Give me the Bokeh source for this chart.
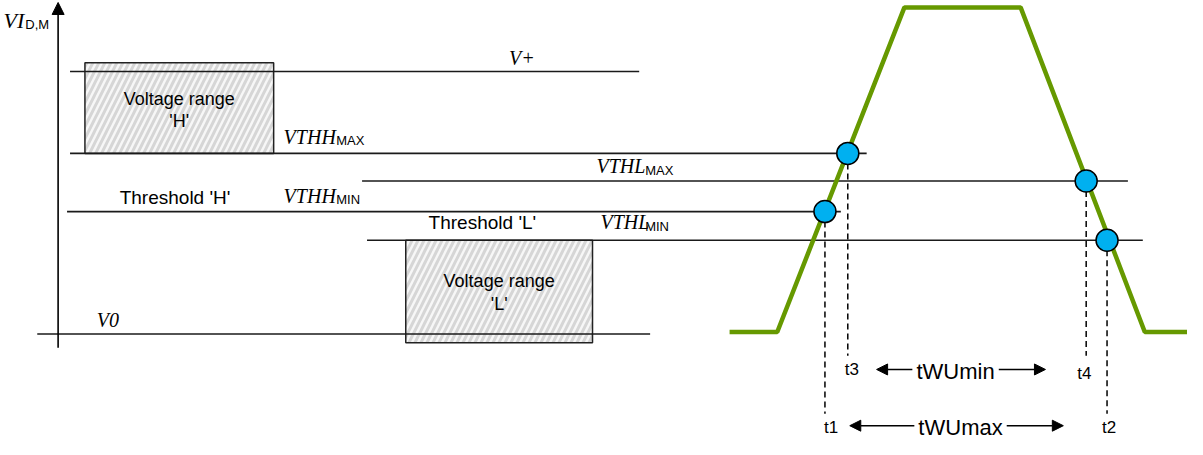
from bokeh.plotting import figure
from bokeh.models import Range1d, Arrow, NormalHead
from bokeh.core.properties import value
from bokeh.embed import file_html
from bokeh.resources import INLINE

# ---------------- data (diagram coordinates: x = time, y = level, downward) ----------------
level_names = ["V+", "VTHH_MAX", "VTHL_MAX", "VTHH_MIN", "VTHL_MIN", "V0"]
level_y = [80, 163, 191, 222, 251, 346]
level_x_start = [78, 78, 372, 75, 377, 45]
level_x_end = [651, 880, 1143, 854, 1158, 662]

range_names = ["H", "L"]
range_left = [93, 416]
range_right = [283, 604]
range_top = [71, 251]
range_bottom = [163, 355]

signal_t = [742, 790, 918, 1035, 1160, 1203]
signal_v = [344, 344, 15, 15, 344, 344]

cross_labels = ["t1", "t3", "t4", "t2"]
cross_t = [838, 861, 1101, 1122]
cross_v = [222, 163, 191, 251]
cross_drop_end = [427, 368, 368, 427]

span_labels = ["tWUmin", "tWUmax"]
span_left = [890, 863]
span_right = [1060, 1078]
span_text_left = [926, 928]
span_text_right = [1013, 1021]
span_y = [382, 439]

DY = -7  # baseline correction for svg text placement

# ---------------- figure ----------------
p = figure(width=1187, height=439, output_backend="svg", toolbar_location=None,
           x_range=Range1d(8, 1203), y_range=Range1d(453, 8),
           min_border=0, outline_line_color=None, background_fill_color="white",
           border_fill_color="white")
p.axis.visible = False
p.grid.visible = False

SANS = value("Liberation Sans")
SERIF = value("Liberation Serif")

# hatched voltage-range boxes
p.quad(left=range_left, right=range_right, top=range_top, bottom=range_bottom,
       fill_color="#f7f7f7", hatch_pattern="/", hatch_color="#d6d6d6",
       hatch_scale=12, hatch_weight=3, line_color="#222222", line_width=1.5)

# level lines
p.segment(x0=level_x_start, y0=level_y, x1=level_x_end, y1=level_y,
          line_color="#1a1a1a", line_width=1.6)

# vertical axis with arrow
p.add_layout(Arrow(end=NormalHead(size=12, fill_color="black", line_color="black"),
                   x_start=66, y_start=360, x_end=66, y_end=10,
                   line_color="black", line_width=1.6))

# signal
p.line(signal_t, signal_v, line_color="#669900", line_width=4.5)

# dashed drop lines
p.segment(x0=cross_t, y0=cross_v, x1=cross_t, y1=cross_drop_end,
          line_color="black", line_width=1.5, line_dash="6 4")

# crossing markers
p.scatter(cross_t, cross_v, size=22, fill_color="#00b0f0", line_color="black", line_width=1.5)

# span arrows
for l, r, tl, tr, y in zip(span_left, span_right, span_text_left, span_text_right, span_y):
    p.add_layout(Arrow(end=NormalHead(size=11, fill_color="black", line_color="black"),
                       x_start=tl, y_start=y, x_end=l, y_end=y, line_color="black", line_width=1.5))
    p.add_layout(Arrow(end=NormalHead(size=11, fill_color="black", line_color="black"),
                       x_start=tr, y_start=y, x_end=r, y_end=y, line_color="black", line_width=1.5))


def txt(xs, ys, labels, font, size, align="left", italic=False):
    p.text(x=xs, y=[v + DY for v in ys], text=labels, text_font=font,
           text_font_size=size, text_align=align, text_baseline="alphabetic",
           text_font_style="italic" if italic else "normal", text_color="black")


# span labels
txt([(a + b) / 2 for a, b in zip(span_text_left, span_text_right)], [391, 448],
    span_labels, SANS, "22px", align="center")

# t labels
txt([837, 858, 1092, 1117], [448, 389, 393, 448], cross_labels, SANS, "17px")

# voltage range labels
txt([188, 188, 510, 510], [115, 137, 299, 323],
    ["Voltage range", "'H'", "Voltage range", "'L'"], SANS, "18px", align="center")

# threshold labels
txt([128, 439], [215, 240], ["Threshold 'H'", "Threshold 'L'"], SANS, "19px")

# italic serif level labels
txt([520, 105, 293, 608, 293, 612], [73, 339, 153, 183, 213, 240],
    ["V+", "V0", "VTHH", "VTHL", "VTHH", "VTHL"], SERIF, "20px", italic=True)
txt([11], [35], ["VI"], SERIF, "22px", italic=True)

# subscripts
txt([346, 657, 346, 657, 33], [157, 187, 217, 244, 39],
    ["MAX", "MAX", "MIN", "MIN", "D,M"], SANS, "13px")

open("out.html", "w").write(file_html(p, INLINE))
